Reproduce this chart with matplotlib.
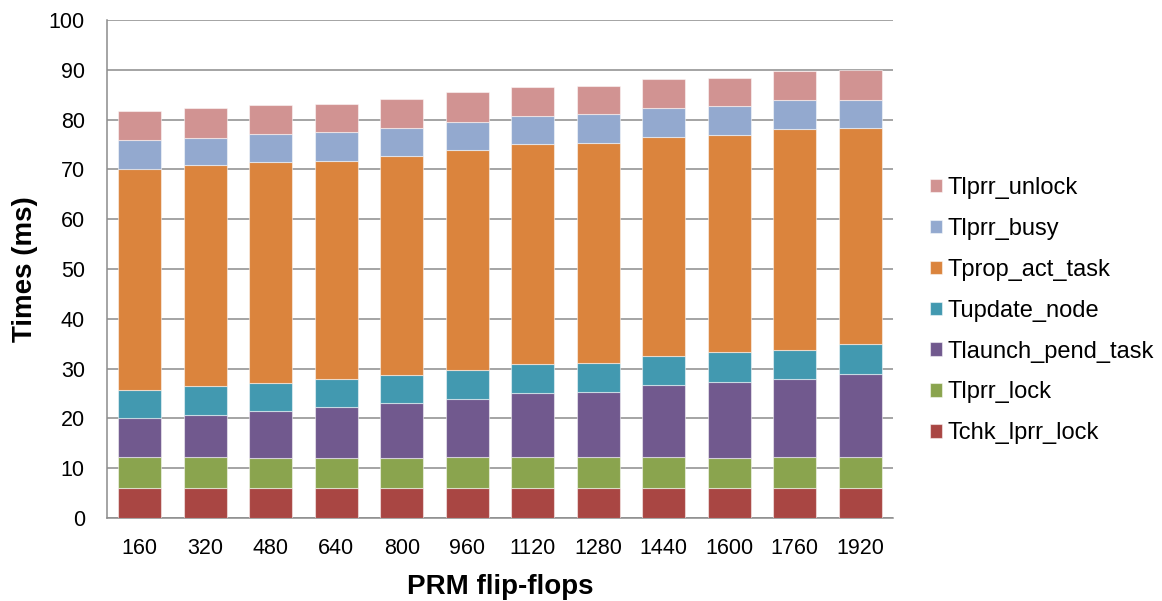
import matplotlib
matplotlib.use("Agg")
import matplotlib.pyplot as plt
import numpy as np

plt.rcParams['font.family'] = ['Liberation Sans', 'DejaVu Sans']

categories = ["160", "320", "480", "640", "800", "960", "1120", "1280", "1440", "1600", "1760", "1920"]
series_names = ["Tchk_lprr_lock", "Tlprr_lock", "Tlaunch_pend_task", "Tupdate_node",
                "Tprop_act_task", "Tlprr_busy", "Tlprr_unlock"]
tchk_lprr_lock = [6.0, 6.0, 6.0, 6.0, 6.0, 6.0, 6.0, 6.0, 6.0, 6.0, 6.0, 6.0]
tlprr_lock = [6.2, 6.2, 6.0, 6.0, 6.0, 6.2, 6.2, 6.2, 6.2, 6.0, 6.2, 6.2]
tlaunch_pend_task = [7.9, 8.4, 9.4, 10.2, 11.1, 11.8, 12.9, 13.2, 14.6, 15.3, 15.8, 16.7]
tupdate_node = [5.7, 5.9, 5.8, 5.7, 5.7, 5.8, 5.9, 5.8, 5.8, 6.0, 5.8, 6.0]
tprop_act_task = [44.2, 44.3, 44.2, 43.7, 43.8, 44.2, 44.2, 44.2, 43.9, 43.6, 44.3, 43.5]
tlprr_busy = [6.0, 5.6, 5.7, 5.9, 5.8, 5.6, 5.6, 5.7, 5.8, 5.8, 5.9, 5.6]
tlprr_unlock = [5.8, 5.9, 5.8, 5.7, 5.7, 5.9, 5.8, 5.7, 5.9, 5.7, 5.7, 6.0]
colors = ["#A94643", "#8AA44E", "#71598E", "#4299B0", "#DB843D", "#93A9CF", "#D19392"]

data = [tchk_lprr_lock, tlprr_lock, tlaunch_pend_task, tupdate_node,
        tprop_act_task, tlprr_busy, tlprr_unlock]

fig = plt.figure(figsize=(11.62, 6.01), dpi=100)
ax = fig.add_axes([0.0921, 0.138, 0.6764, 0.8287])

x = np.arange(len(categories))
bottom = np.zeros(len(categories))
handles = []
for name, vals, c in zip(series_names, data, colors):
    vals = np.array(vals)
    b = ax.bar(x, vals, 0.66, bottom=bottom, color=c, label=name,
               edgecolor=(1, 1, 1, 0.5), linewidth=0.8, zorder=3)
    handles.append(b)
    bottom += vals

ax.set_xlim(-0.5, len(categories) - 0.5)
ax.set_ylim(0, 100)
ax.set_yticks(range(0, 101, 10))
ax.set_xticks(x)
ax.set_xticklabels(categories)
ax.yaxis.grid(True, color="#8c8c8c", linewidth=1.1, zorder=0)
ax.set_axisbelow(True)
for s in ["top", "right"]:
    ax.spines[s].set_visible(False)
for s in ["left", "bottom"]:
    ax.spines[s].set_color("#8c8c8c")
    ax.spines[s].set_linewidth(1.1)
ax.tick_params(axis='both', labelsize=15.5, length=0)
ax.tick_params(axis='x', pad=14)
ax.tick_params(axis='y', pad=16)
ax.set_ylabel("Times (ms)", fontsize=20, fontweight='bold', labelpad=8)
ax.set_xlabel("PRM flip-flops", fontsize=20, fontweight='bold', labelpad=11)

leg = fig.legend(handles[::-1], series_names[::-1], loc='center left',
                 bbox_to_anchor=(0.790, 0.483), frameon=False, fontsize=17,
                 handlelength=0.5, handleheight=0.5, handletextpad=0.25,
                 labelspacing=0.8, borderpad=0)
plt.savefig("out.png", dpi=100)
